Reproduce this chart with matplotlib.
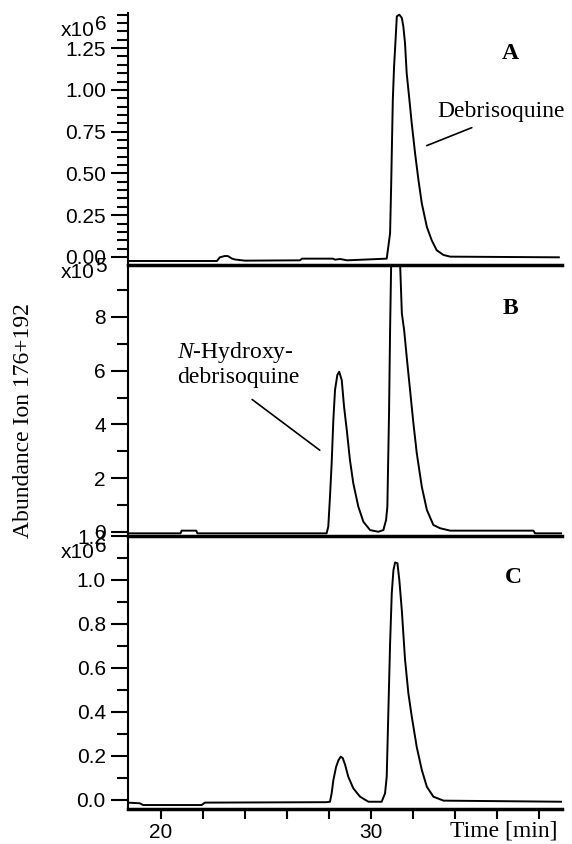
import matplotlib
matplotlib.use("Agg")
import matplotlib.pyplot as plt
from matplotlib.ticker import MultipleLocator, FixedLocator, FormatStrFormatter, NullLocator

# ion chromatograms (m/z 176+192), time in min
# panel A: debrisoquine only, abundance x10^6
time_a = [18.45, 22.68, 22.82, 23.06, 23.21, 23.40, 23.54, 24.01, 26.63, 26.73, 28.20, 28.30,
          28.54, 28.87, 30.76, 30.92, 30.97, 31.05, 31.11, 31.19, 31.24, 31.36, 31.48, 31.55,
          31.63, 31.71, 31.84, 31.95, 32.11, 32.27, 32.43, 32.67, 32.90, 33.14, 33.46, 33.78, 38.95]
abund_a = [-0.024, -0.024, -0.002, 0.006, 0.005, -0.010, -0.015, -0.022, -0.020, -0.010, -0.010, -0.016,
           -0.012, -0.020, -0.010, 0.142, 0.42, 0.94, 1.14, 1.32, 1.44, 1.45, 1.43, 1.38,
           1.28, 1.10, 0.94, 0.80, 0.62, 0.46, 0.32, 0.18, 0.10, 0.04, 0.012, 0.002, -0.002]

# panel B: N-hydroxydebrisoquine + debrisoquine, abundance x10^5
time_b = [18.45, 20.95, 21.0, 21.7, 21.75, 27.90, 27.98, 28.06, 28.14, 28.22, 28.30, 28.41,
          28.50, 28.62, 28.73, 28.86, 29.01, 29.17, 29.41, 29.65, 29.97, 30.36, 30.60, 30.73,
          30.79, 30.87, 30.92, 30.97, 31.1, 31.2, 31.3, 31.40, 31.48, 31.59, 31.71, 31.87,
          32.03, 32.19, 32.43, 32.67, 32.98, 33.30, 33.78, 37.74, 37.82, 39.1]
abund_b = [-0.05, -0.05, 0.05, 0.05, -0.05, -0.05, 0.2, 1.31, 2.55, 4.16, 5.28, 5.84,
           5.96, 5.65, 4.66, 3.79, 2.68, 1.81, 0.94, 0.38, 0.07, 0.01, 0.07, 0.45,
           0.94, 4.41, 7.5, 9.9, 12.0, 12.6, 12.0, 9.9, 8.13, 7.5, 6.52, 5.28,
           4.04, 2.93, 1.68, 0.82, 0.26, 0.14, 0.05, 0.05, -0.05, -0.05]

# panel C: abundance x10^6
time_c = [18.45, 19.01, 19.17, 21.95, 22.11, 27.90, 28.06, 28.14, 28.22, 28.35, 28.46, 28.57,
          28.67, 28.78, 28.93, 29.17, 29.49, 29.89, 30.52, 30.68, 30.76, 30.84, 30.92, 31.00,
          31.08, 31.16, 31.27, 31.36, 31.48, 31.63, 31.79, 31.95, 32.19, 32.43, 32.67, 32.98,
          33.46, 39.1]
abund_c = [-0.012, -0.015, -0.023, -0.023, -0.012, -0.010, -0.008, 0.03, 0.09, 0.15, 0.18, 0.197,
           0.19, 0.16, 0.106, 0.053, 0.015, -0.008, -0.008, 0.03, 0.106, 0.41, 0.71, 0.94,
           1.045, 1.08, 1.076, 1.0, 0.86, 0.64, 0.485, 0.38, 0.24, 0.136, 0.06, 0.015,
           -0.003, -0.008]

panel_letters = ["A", "B", "C"]
exponents = ["6", "5", "6"]

plt.rcParams['font.family'] = ['Liberation Sans', 'DejaVu Sans']
plt.rcParams['mathtext.fontset'] = 'custom'
plt.rcParams['mathtext.it'] = 'Liberation Serif:italic'
plt.rcParams['mathtext.rm'] = 'Liberation Serif'
SERIF = 'Liberation Serif'
W, H = 572, 844

fig = plt.figure(figsize=(W / 100, H / 100), dpi=100)
left, right = 128 / W, 562 / W
ax_a = fig.add_axes([left, 1 - 265 / H, right - left, 252 / H])
ax_b = fig.add_axes([left, 1 - 536 / H, right - left, 271 / H])
ax_c = fig.add_axes([left, 1 - 809 / H, right - left, 273 / H])

ax_a.plot(time_a, abund_a, color='black', lw=1.4)
ax_b.plot(time_b, abund_b, color='black', lw=1.4)
ax_c.plot(time_c, abund_c, color='black', lw=1.4)

ax_a.set_ylim(-0.048, 1.46)
ax_b.set_ylim(-0.149, 9.93)
ax_c.set_ylim(-0.041, 1.2)

ax_a.yaxis.set_major_locator(MultipleLocator(0.25))
ax_a.yaxis.set_minor_locator(MultipleLocator(0.05))
ax_a.yaxis.set_major_formatter(FormatStrFormatter('%.2f'))
ax_b.yaxis.set_major_locator(MultipleLocator(2))
ax_b.yaxis.set_minor_locator(MultipleLocator(1))
ax_b.yaxis.set_major_formatter(FormatStrFormatter('%d'))
ax_c.yaxis.set_major_locator(MultipleLocator(0.2))
ax_c.yaxis.set_minor_locator(MultipleLocator(0.1))
ax_c.yaxis.set_major_formatter(FormatStrFormatter('%.1f'))

for ax in (ax_a, ax_b, ax_c):
    ax.set_xlim(18.45, 39.1)
    ax.spines['top'].set_visible(False)
    ax.spines['right'].set_visible(False)
    ax.spines['left'].set_linewidth(1.5)
    ax.spines['bottom'].set_linewidth(2.5)
    ax.tick_params(axis='y', which='major', direction='out', length=12, width=1.5,
                   pad=4, labelsize=15)
    ax.tick_params(axis='y', which='minor', direction='out', length=8, width=1.5)
    ax.patch.set_alpha(0)

for ax in (ax_a, ax_b):
    ax.xaxis.set_major_locator(NullLocator())
    ax.xaxis.set_minor_locator(NullLocator())

ax_c.xaxis.set_major_locator(FixedLocator([20, 30]))
ax_c.xaxis.set_minor_locator(MultipleLocator(2))
ax_c.tick_params(axis='x', which='both', direction='out', length=7, width=1.5, pad=3, labelsize=15)

# panel letters
ax_a.text(36.63, 1.22, "A", family=SERIF, weight='bold', fontsize=17, ha='center', va='center')
ax_b.text(36.63, 8.33, "B", family=SERIF, weight='bold', fontsize=17, ha='center', va='center')
ax_c.text(36.78, 1.01, "C", family=SERIF, weight='bold', fontsize=17, ha='center', va='center')

# peak labels
ax_a.text(33.16, 0.837, "Debrisoquine", family=SERIF, fontsize=17, ha='left', va='baseline')
ax_a.annotate('', xy=(32.54, 0.66), xytext=(34.93, 0.78),
              arrowprops=dict(arrowstyle='-', lw=1.2, color='black'))
ax_b.text(20.78, 6.66, r"$\it{N}$-Hydroxy-", family=SERIF, fontsize=17, ha='left', va='center')
ax_b.text(20.78, 5.73, "debrisoquine", family=SERIF, fontsize=17, ha='left', va='center')
ax_b.annotate('', xy=(27.68, 2.98), xytext=(24.25, 4.99),
              arrowprops=dict(arrowstyle='-', lw=1.2, color='black'))

# scale factors x10^n at the top of each axis
for exp, (y_base, y_sup) in zip(exponents, [(31, 25), (273, 266), (552, 546)]):
    fig.text(95 / W, 1 - y_base / H, "x10", fontsize=15, ha='right', va='center')
    fig.text(95.5 / W, 1 - y_sup / H, exp, fontsize=15, ha='left', va='center')

fig.text(24 / W, 1 - 421 / H, "Abundance Ion 176+192", family=SERIF, fontsize=17,
         rotation=90, ha='center', va='center')
fig.text(557 / W, 1 - 837 / H, "Time [min]", family=SERIF, fontsize=17, ha='right', va='baseline')

fig.savefig("out.png", dpi=100)
